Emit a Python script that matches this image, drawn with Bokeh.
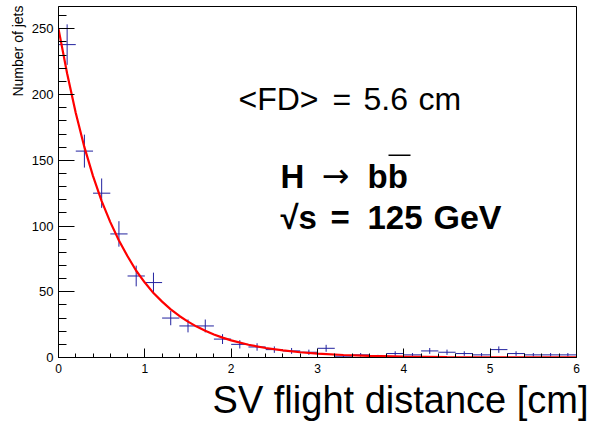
import math
import numpy as np
from bokeh.plotting import figure
from bokeh.models import Range1d, SingleIntervalTicker, Label, BoxAnnotation, ColumnDataSource, Title
from bokeh.embed import file_html
from bokeh.resources import INLINE

# ---------------- data ----------------
bin_centers = [0.1, 0.3, 0.5, 0.7, 0.9, 1.1, 1.3, 1.5, 1.7, 1.9,
               2.1, 2.3, 2.5, 2.7, 2.9, 3.1, 3.3, 3.5, 3.7, 3.9,
               4.1, 4.3, 4.5, 4.7, 4.9, 5.1, 5.3, 5.5, 5.7, 5.9]
counts = [238, 157, 125, 94, 62, 57, 30, 24, 24, 14,
          10, 8, 6, 5, 4, 7, 1, 2, 1, 3,
          2, 5, 4, 3, 2, 6, 3, 2, 2, 2]
bin_width = 0.2

fit_x = [0.0, 0.1, 0.2, 0.3, 0.4, 0.5, 0.6, 0.7, 0.8, 0.9, 1.0,
         1.1, 1.2, 1.3, 1.4, 1.5, 1.6, 1.7, 1.8, 1.9, 2.0,
         2.2, 2.4, 2.6, 2.8, 3.0, 3.3, 3.6, 4.0, 4.5, 5.0, 5.5, 6.0]
fit_y = [250, 216, 186, 160, 138, 119, 103, 89, 77, 66, 57,
         49, 42.5, 36.6, 31.6, 27.3, 23.5, 20.3, 17.5, 15.1, 13.0,
         9.7, 7.2, 5.4, 4.0, 3.0, 1.9, 1.2, 0.7, 0.3, 0.15, 0.07, 0.03]

x_min, x_max = 0, 6
y_min, y_max = 0, 267

x_title = "SV flight distance [cm]"
y_title = "Number of jets"

# ---------------- layout ----------------
W, H = 591, 424
B_LEFT, B_RIGHT, B_TOP, B_BOTTOM = 58, 15, 6, 67
FRAME_W = W - B_LEFT - B_RIGHT
FRAME_H = H - B_TOP - B_BOTTOM


def dx(px):
    return x_min + (px - B_LEFT) / FRAME_W * (x_max - x_min)


def dy(py):
    return y_min + (H - B_BOTTOM - py) / FRAME_H * (y_max - y_min)


p = figure(width=W, height=H, x_range=Range1d(x_min, x_max), y_range=Range1d(y_min, y_max),
           output_backend="svg", toolbar_location=None,
           min_border_left=B_LEFT, min_border_right=B_RIGHT,
           min_border_top=B_TOP, min_border_bottom=B_BOTTOM)
p.background_fill_color = "white"
p.border_fill_color = "white"
p.outline_line_color = "black"
p.outline_line_width = 1
p.grid.visible = False

FONT = "Liberation Sans"
p.xaxis.ticker = SingleIntervalTicker(interval=1, num_minor_ticks=5)
p.yaxis.ticker = SingleIntervalTicker(interval=50, num_minor_ticks=5)
for ax in (p.xaxis[0], p.yaxis[0]):
    ax.major_tick_out = 0
    ax.minor_tick_out = 0
    ax.axis_line_color = "black"
    ax.major_tick_line_color = "black"
    ax.minor_tick_line_color = "black"
    ax.major_label_text_font = FONT
    ax.major_label_text_color = "black"
p.xaxis.major_label_text_font_size = "12px"
p.yaxis.major_label_text_font_size = "13px"
p.xaxis.major_tick_in = 9
p.xaxis.minor_tick_in = 4
p.yaxis.major_tick_in = 16
p.yaxis.minor_tick_in = 8
p.xaxis.major_label_standoff = 6
p.yaxis.major_label_standoff = 5

# axis titles (ROOT style: aligned to the end of the axis)
p.add_layout(Title(text=x_title, align="right", offset=-12, standoff=3,
                   text_font=FONT, text_font_style="normal", text_font_size="38px",
                   text_color="black"), "below")
p.add_layout(Title(text=y_title, align="right", offset=-1, standoff=6,
                   text_font=FONT, text_font_style="normal", text_font_size="14px",
                   text_color="black"), "left")

# ---------------- histogram with error bars ----------------
c = np.array(bin_centers)
n = np.array(counts, dtype=float)
err = np.sqrt(n)
src = ColumnDataSource(dict(x=c, y=n, xl=c - bin_width / 2, xr=c + bin_width / 2,
                            lo=n - err, hi=n + err))
blue = "#22229f"
p.segment(x0="xl", x1="xr", y0="y", y1="y", source=src, line_color=blue, line_width=1)
p.segment(x0="x", x1="x", y0="lo", y1="hi", source=src, line_color=blue, line_width=1)

# ---------------- fit curve ----------------
p.line(fit_x, fit_y, line_color="#ff0000", line_width=2.2)


# ---------------- texts ----------------
def add_text(txt, px, py_base, fs, bold=False, font=FONT, align="left", baseline="alphabetic"):
    shift = 0.37 * fs if baseline == "alphabetic" else 4
    p.add_layout(Label(x=dx(px), y=dy(py_base - shift), text=txt, text_font=font,
                       text_font_style="bold" if bold else "normal",
                       text_font_size=f"{fs}px", text_color="black",
                       text_align=align, text_baseline=baseline))


# <FD> = 5.6 cm
add_text("<FD>", 238, 110, 32)
add_text("=", 332, 110, 32)
add_text("5.6", 363, 110, 32)
add_text("cm", 418, 110, 32)
# H -> b bbar
add_text("H", 280, 188, 33, bold=True)
add_text("\u2192", 335, 179, 33, font="DejaVu Sans", align="center", baseline="middle")
add_text("bb", 367, 188, 33, bold=True)
p.add_layout(BoxAnnotation(left=dx(388), right=dx(410), top=dy(154), bottom=dy(155.5),
                           fill_color="black", fill_alpha=1, line_alpha=0))
# sqrt(s) = 125 GeV
add_text("\u221as", 280, 229, 33, bold=True)
add_text("=", 330, 229, 33, bold=True)
add_text("125", 367, 229, 33, bold=True)
add_text("GeV", 433, 229, 34, bold=True)

open("out.html", "w").write(file_html(p, INLINE))
